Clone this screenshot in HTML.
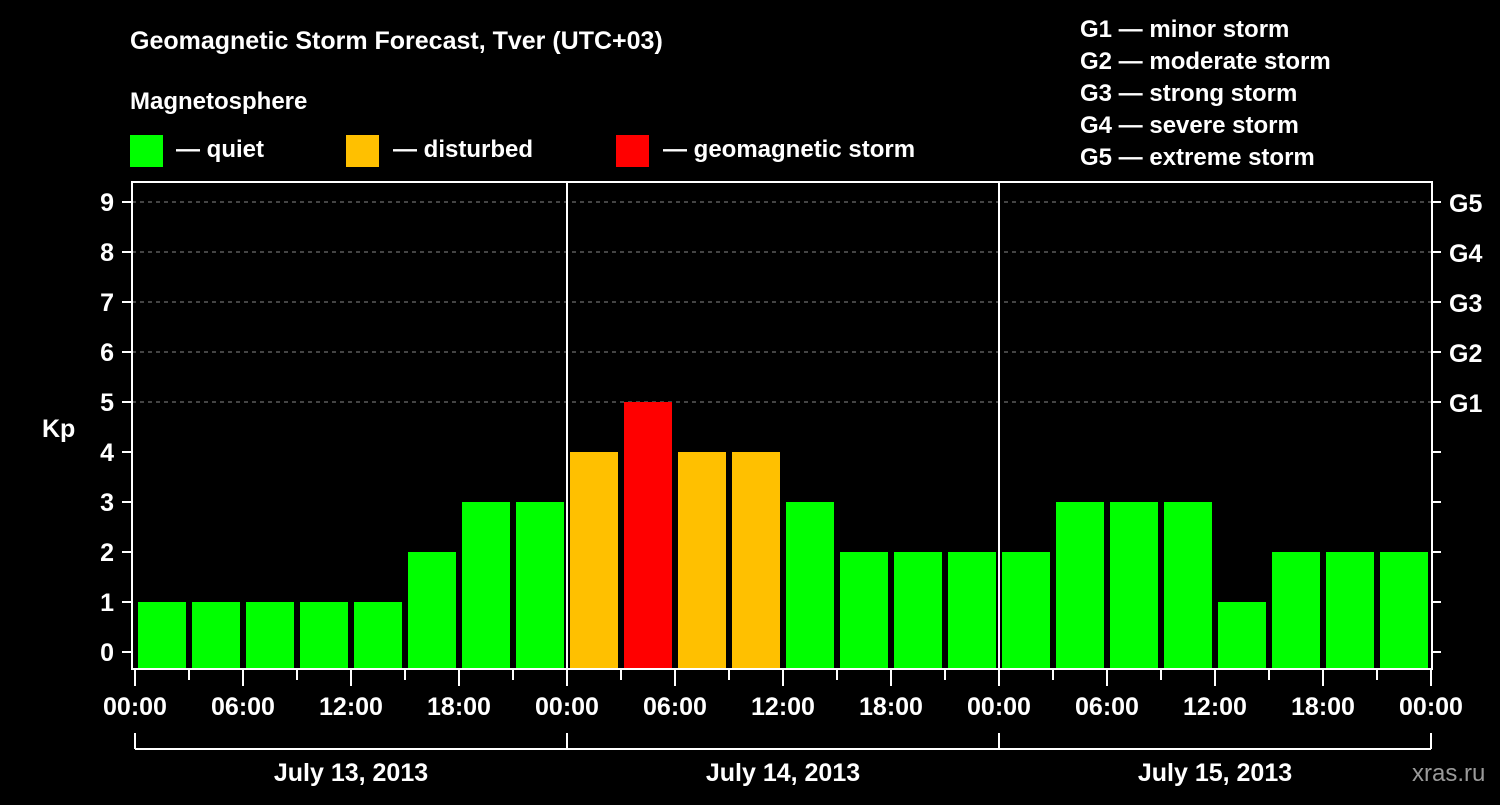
<!DOCTYPE html>
<html><head><meta charset="utf-8"><style>
body{margin:0;background:#000;width:1500px;height:800px;overflow:hidden}
svg text{font-family:"Liberation Sans",sans-serif;font-weight:bold;fill:#fff}
</style></head><body>
<svg id="c" width="1500" height="800" xmlns="http://www.w3.org/2000/svg">
<text x="130" y="49" font-size="25">Geomagnetic Storm Forecast, Tver (UTC+03)</text>
<text x="130" y="109" font-size="24">Magnetosphere</text>
<g><rect x="130" y="135" width="33" height="32" fill="#00ff00"/><text x="176" y="157" font-size="24">— quiet</text></g>
<g><rect x="346" y="135" width="33" height="32" fill="#ffc000"/><text x="393" y="157" font-size="24">— disturbed</text></g>
<g><rect x="616" y="135" width="33" height="32" fill="#ff0000"/><text x="663" y="157" font-size="24">— geomagnetic storm</text></g>
<g font-size="24">
<text x="1080" y="37">G1 — minor storm</text>
<text x="1080" y="69">G2 — moderate storm</text>
<text x="1080" y="101">G3 — strong storm</text>
<text x="1080" y="133">G4 — severe storm</text>
<text x="1080" y="165">G5 — extreme storm</text>
</g>
<text x="42" y="437" font-size="25">Kp</text>
<text x="1412" y="781" font-size="24" fill="#999" style="fill:#9a9a9a;font-weight:normal">xras.ru</text>
<g id="plot"></g>
</svg>
<script>
const kpValues=[1,1,1,1,1,2,3,3,4,5,4,4,3,2,2,2,2,3,3,3,1,2,2,2];
const yTicks=[0,1,2,3,4,5,6,7,8,9];
const gLabels=["G1","G2","G3","G4","G5"];
const gLevels=[5,6,7,8,9];
const timeLabels=["00:00","06:00","12:00","18:00","00:00","06:00","12:00","18:00","00:00","06:00","12:00","18:00","00:00"];
const dayLabels=["July 13, 2013","July 14, 2013","July 15, 2013"];
const X0=135,HOUR=18,Y0=652,UNIT=50,TOP=182,BOT=669,RIGHT=1432;
const x=h=>X0+h*HOUR, y=v=>Y0-v*UNIT;
const g=document.getElementById('plot'),NS="http://www.w3.org/2000/svg";
function mk(t,a){const e=document.createElementNS(NS,t);for(const k in a)e.setAttribute(k,a[k]);g.appendChild(e);return e;}
function color(v){return v>=5?"#ff0000":v>=4?"#ffc000":"#00ff00";}
gLevels.forEach((v,i)=>{
 const l=mk('line',{x1:132,x2:RIGHT,y1:y(v),y2:y(v),stroke:"#888","stroke-dasharray":"4,4","stroke-width":1});
 
 
 const t=mk('text',{x:1449,y:y(v)+10,"font-size":25});t.textContent=gLabels[i];
 
 
});
kpValues.forEach((v,i)=>{
 const r=mk('rect',{x:x(i*3)+3,y:y(v),width:48,height:668-y(v),fill:color(v)});
 
 
});
mk('rect',{x:132,y:TOP,width:RIGHT-132,height:BOT-TOP,fill:"none",stroke:"#fff","stroke-width":2});
[1,2].forEach(d=>{const l=mk('line',{x1:x(d*24),x2:x(d*24),y1:TOP,y2:BOT,stroke:"#fff","stroke-width":2});
 
 });
yTicks.forEach(v=>{
 mk('line',{x1:122,x2:132,y1:y(v),y2:y(v),stroke:"#fff","stroke-width":2});
 mk('line',{x1:RIGHT,x2:RIGHT+9,y1:y(v),y2:y(v),stroke:"#fff","stroke-width":2});
 const t=mk('text',{x:114,y:y(v)+9,"font-size":25,"text-anchor":"end"});t.textContent=v;
 
 
});
for(let h=0;h<=72;h+=3){mk('line',{x1:x(h),x2:x(h),y1:BOT,y2:h%6==0?686:680,stroke:"#fff","stroke-width":2});}
timeLabels.forEach((s,i)=>{const t=mk('text',{x:x(i*6),y:715,"font-size":25,"text-anchor":"middle"});t.textContent=s;
 
 });
mk('line',{x1:x(0),x2:x(72),y1:749,y2:749,stroke:"#fff","stroke-width":2});
for(let d=0;d<=3;d++)mk('line',{x1:x(d*24),x2:x(d*24),y1:733,y2:749,stroke:"#fff","stroke-width":2});
dayLabels.forEach((s,i)=>{const t=mk('text',{x:x(i*24+12),y:781,"font-size":25,"text-anchor":"middle"});t.textContent=s;
 
 });
</script>
</body></html>
